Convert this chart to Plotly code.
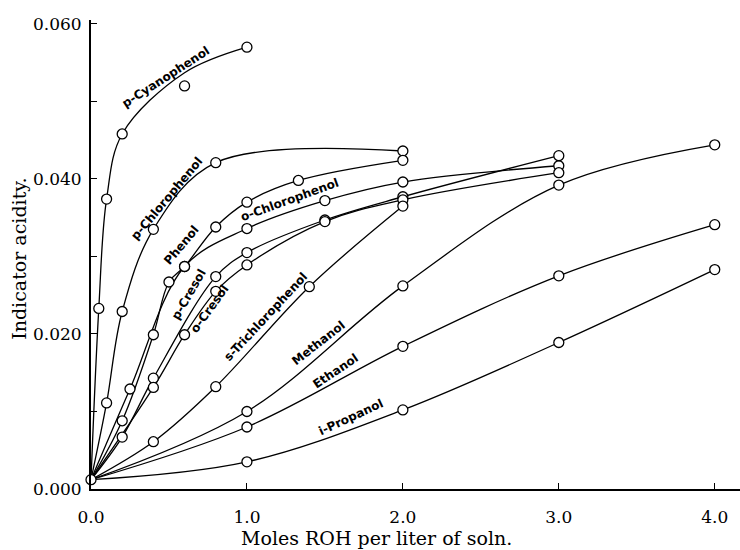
import plotly.graph_objects as go

# Shared starting point of every curve (pure solvent)
origin_x = 0.0
origin_y = 0.0012

# Concentration (moles ROH per liter) and indicator acidity for each compound
cyano_x = [0.05, 0.1, 0.2, 0.6, 1.0]
cyano_y = [0.0233, 0.0374, 0.0458, 0.0520, 0.0570]
# The drawn p-cyanophenol curve passes above the 0.6 M point
cyano_curve_x = [0.05, 0.1, 0.2, 0.6, 1.0]
cyano_curve_y = [0.0233, 0.0374, 0.0458, 0.0537, 0.0570]

pchloro_x = [0.1, 0.2, 0.4, 0.8, 2.0]
pchloro_y = [0.0111, 0.0229, 0.0335, 0.0421, 0.0436]

phenol_x = [0.2, 0.4, 0.5, 0.6, 0.8, 1.0, 1.33, 2.0]
phenol_y = [0.0088, 0.0199, 0.0267, 0.0287, 0.0338, 0.0370, 0.0398, 0.0424]

ochloro_x = [0.25, 0.6, 1.0, 1.5, 2.0, 3.0]
ochloro_y = [0.0129, 0.0287, 0.0336, 0.0372, 0.0396, 0.0417]

pcresol_x = [0.2, 0.4, 0.8, 1.0, 1.5, 2.0, 3.0]
pcresol_y = [0.0067, 0.0143, 0.0274, 0.0305, 0.0347, 0.0377, 0.0430]

ocresol_x = [0.4, 0.6, 0.8, 1.0, 1.5, 2.0, 3.0]
ocresol_y = [0.0131, 0.0199, 0.0255, 0.0289, 0.0345, 0.0373, 0.0408]

trichloro_x = [0.4, 0.8, 1.4, 2.0]
trichloro_y = [0.0061, 0.0132, 0.0261, 0.0365]

methanol_x = [1.0, 2.0, 3.0, 4.0]
methanol_y = [0.0100, 0.0262, 0.0392, 0.0444]

ethanol_x = [1.0, 2.0, 3.0, 4.0]
ethanol_y = [0.0080, 0.0184, 0.0275, 0.0341]

propanol_x = [1.0, 2.0, 3.0, 4.0]
propanol_y = [0.0035, 0.0102, 0.0189, 0.0283]

# (name, measured x, measured y, curve x, curve y)
series = [
    ("p-Cyanophenol", cyano_x, cyano_y, cyano_curve_x, cyano_curve_y),
    ("p-Chlorophenol", pchloro_x, pchloro_y, pchloro_x, pchloro_y),
    ("Phenol", phenol_x, phenol_y, phenol_x, phenol_y),
    ("o-Chlorophenol", ochloro_x, ochloro_y, ochloro_x, ochloro_y),
    ("p-Cresol", pcresol_x, pcresol_y, pcresol_x, pcresol_y),
    ("o-Cresol", ocresol_x, ocresol_y, ocresol_x, ocresol_y),
    ("s-Trichlorophenol", trichloro_x, trichloro_y, trichloro_x, trichloro_y),
    ("Methanol", methanol_x, methanol_y, methanol_x, methanol_y),
    ("Ethanol", ethanol_x, ethanol_y, ethanol_x, ethanol_y),
    ("i-Propanol", propanol_x, propanol_y, propanol_x, propanol_y),
]

# Curve labels: (text, x, y, angle) in data coordinates
curve_labels = [
    ("p-Cyanophenol", 0.48, 0.0532, -33),
    ("p-Chlorophenol", 0.49, 0.0375, -50),
    ("Phenol", 0.58, 0.0315, -50),
    ("o-Chlorophenol", 1.27, 0.0373, -20),
    ("p-Cresol", 0.63, 0.0251, -60),
    ("o-Cresol", 0.76, 0.0232, -54),
    ("s-Trichlorophenol", 1.12, 0.0222, -47),
    ("Methanol", 1.46, 0.0188, -38),
    ("Ethanol", 1.57, 0.0152, -34),
    ("i-Propanol", 1.67, 0.0093, -25),
]

x_ticks = [0.0, 1.0, 2.0, 3.0, 4.0]
y_ticks = [0.000, 0.010, 0.020, 0.030, 0.040, 0.050, 0.060]
y_labels = ["0.000", "", "0.020", "", "0.040", "", "0.060"]

fig = go.Figure()

line_style = dict(color="black", width=1.3, shape="spline", smoothing=1.0)
marker_style = dict(symbol="circle", size=10, color="white",
                    line=dict(color="black", width=1.3))

# Smoothed curves
for name, xs, ys, cxs, cys in series:
    fig.add_trace(go.Scatter(x=[origin_x] + list(cxs), y=[origin_y] + list(cys),
                             mode="lines", line=line_style, hoverinfo="skip",
                             showlegend=False, cliponaxis=False))

# Measured points (open circles)
for name, xs, ys, cxs, cys in series:
    fig.add_trace(go.Scatter(x=xs, y=ys, mode="markers", marker=marker_style,
                             name=name, showlegend=False, cliponaxis=False))
fig.add_trace(go.Scatter(x=[origin_x], y=[origin_y], mode="markers",
                         marker=marker_style, showlegend=False,
                         cliponaxis=False))

label_font = dict(family="DejaVu Sans", size=12, color="black", weight="bold")
for text, lx, ly, ang in curve_labels:
    fig.add_annotation(x=lx, y=ly, text=text, textangle=ang, showarrow=False,
                       font=label_font, xanchor="center", yanchor="middle")

serif = "DejaVu Serif"
fig.add_annotation(xref="paper", yref="paper", x=-0.11, y=0.49,
                   text="Indicator acidity.", textangle=-90, showarrow=False,
                   font=dict(family=serif, size=19, color="black"),
                   xanchor="center", yanchor="middle")
fig.add_annotation(xref="paper", yref="paper", x=0.44, y=-0.105,
                   text="Moles ROH per liter of soln.", showarrow=False,
                   font=dict(family=serif, size=19, color="black"),
                   xanchor="center", yanchor="middle")

fig.update_xaxes(range=[0, 4.162], tickvals=x_ticks, tickformat=".1f",
                 showgrid=False, zeroline=False, showline=True,
                 linecolor="black", linewidth=2, ticks="inside", ticklen=6,
                 tickwidth=1.3, tickcolor="black", ticklabelstandoff=12,
                 tickfont=dict(family=serif, size=17, color="black"))
fig.update_yaxes(range=[0, 0.0605], tickvals=y_ticks, ticktext=y_labels,
                 showgrid=False, zeroline=False, showline=True,
                 linecolor="black", linewidth=2, ticks="inside", ticklen=6,
                 tickwidth=1.3, tickcolor="black", ticklabelstandoff=4,
                 tickfont=dict(family=serif, size=17, color="black"))

fig.update_layout(width=740, height=550, plot_bgcolor="white",
                  paper_bgcolor="white",
                  margin=dict(l=91, r=0, t=20, b=61))

fig.write_html("out.html")
